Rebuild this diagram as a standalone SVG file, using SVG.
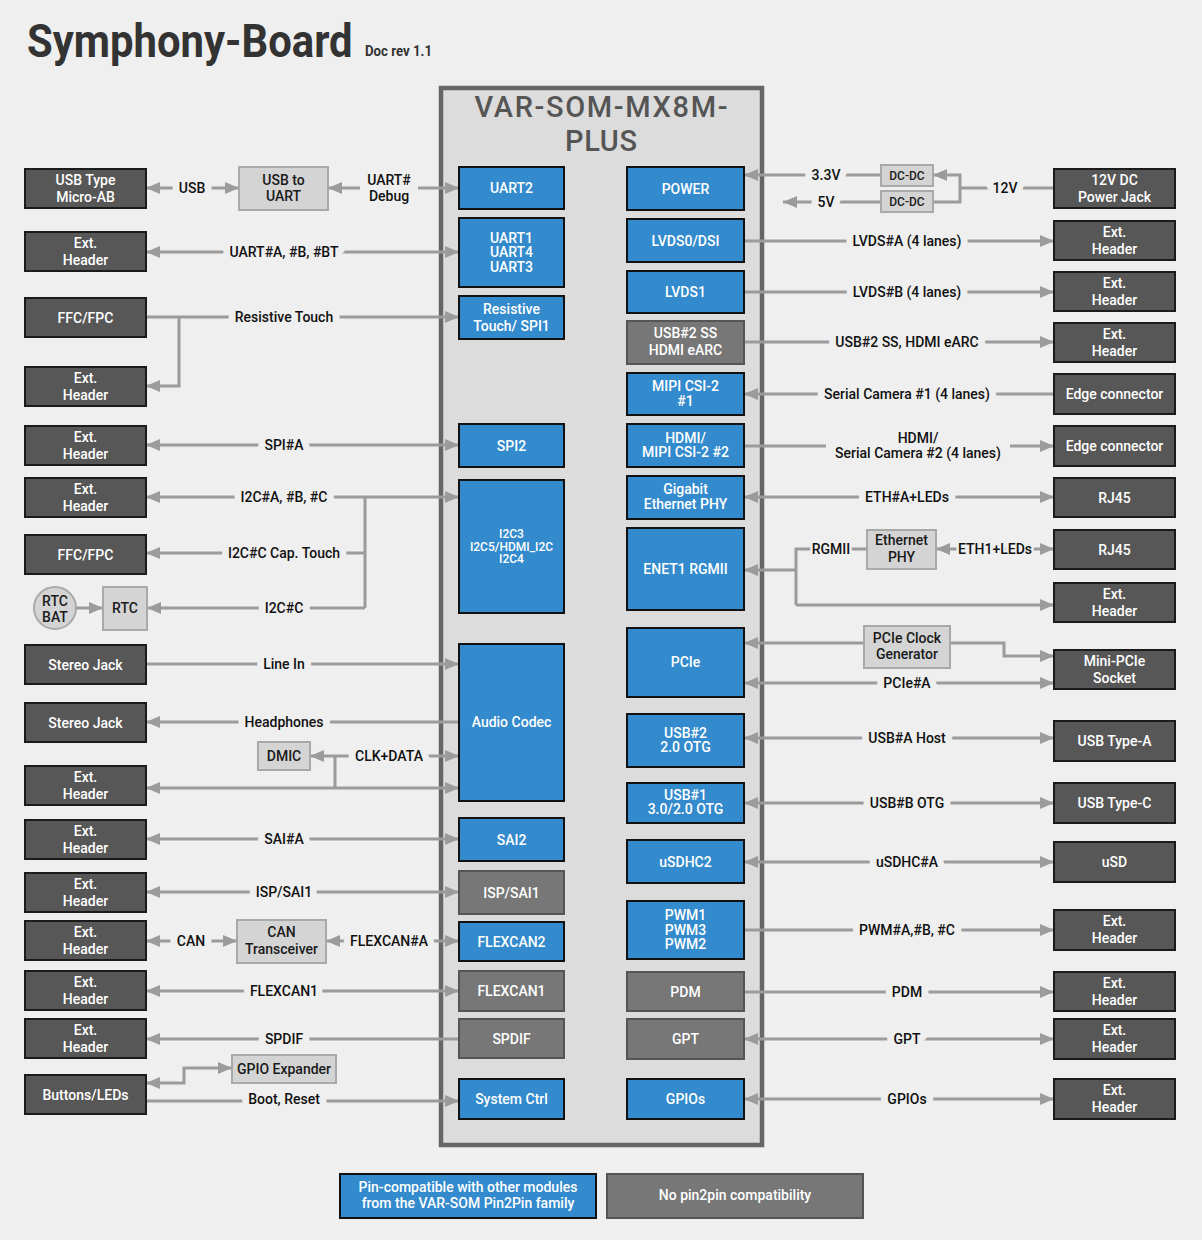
<svg xmlns="http://www.w3.org/2000/svg" width="1202" height="1240" viewBox="0 0 1202 1240">
<defs>
<marker id="ah" viewBox="0 0 14 12" refX="14" refY="6" markerWidth="14" markerHeight="12" markerUnits="userSpaceOnUse" orient="auto-start-reverse"><path d="M0,0 L14,6 L0,12 z" fill="#9b9b9b"/></marker>
<style>
text{font-family:Roboto,"Liberation Sans",sans-serif;font-weight:500;text-anchor:middle}
.dk{fill:#575757;stroke:#1b1b1b;stroke-width:2}
.bl{fill:#338acc;stroke:#111;stroke-width:2}
.gy{fill:#777;stroke:#555;stroke-width:2}
.lt{fill:#d4d4d4;stroke:#a9a9a9;stroke-width:2}
.t{fill:#fff;font-size:14px}
.t12{fill:#fff;font-size:12px}
.k{fill:#1a1a1a;font-size:14px}
.k12{fill:#1a1a1a;font-size:12px}
.c{fill:none;stroke:#9b9b9b;stroke-width:3}
.e{marker-end:url(#ah)}
.s{marker-start:url(#ah)}
.b{marker-start:url(#ah);marker-end:url(#ah)}
.lb{fill:#111;font-size:14px;stroke:#efefef;stroke-width:14px;stroke-linejoin:round;paint-order:stroke}
.ls{stroke-width:5px}
.lb2{fill:#111;font-size:14px}
.gap{fill:#efefef}
</style>
</defs>
<rect x="0" y="0" width="1202" height="1240" fill="#efefef"/>
<g id="title">
<text transform="translate(27,57) scale(0.88,1)" x="0" y="0" style="text-anchor:start;font-weight:700;font-size:46px;fill:#333" textLength="370" lengthAdjust="spacingAndGlyphs">Symphony-Board</text>
<text x="365" y="56" style="text-anchor:start;font-weight:700;font-size:15px;fill:#333" textLength="67" lengthAdjust="spacingAndGlyphs">Doc rev 1.1</text>
</g>
<g id="som">
<rect x="441" y="88" width="321" height="1057" fill="#dcdcdc" stroke="#666" stroke-width="4.5"/>
<text x="601" y="117" style="font-size:29px;fill:#555" textLength="253" lengthAdjust="spacing">VAR-SOM-MX8M-</text>
<text x="601" y="151" style="font-size:29px;fill:#555" textLength="72" lengthAdjust="spacing">PLUS</text>
</g>
<g id="connectors">
<path class="c b" d="M146,188 H239"/>
<path class="c b" d="M328,188 H459"/>
<path class="c b" d="M146,252 H459"/>
<path class="c e" d="M146,317 H459"/>
<path class="c e" d="M179,317 V386 H146"/>
<path class="c b" d="M146,445 H459"/>
<path class="c b" d="M146,497 H459"/>
<path class="c" d="M365,497 V608"/>
<path class="c e" d="M365,553 H146"/>
<path class="c e" d="M365,608 H147"/>
<path class="c e" d="M76,608 H103"/>
<path class="c e" d="M146,664 H459"/>
<path class="c e" d="M459,722 H146"/>
<path class="c b" d="M310,756 H459"/>
<path class="c" d="M335,756 V788"/>
<path class="c b" d="M146,788 H459"/>
<path class="c b" d="M146,839 H459"/>
<path class="c b" d="M146,892 H459"/>
<path class="c b" d="M146,941 H237"/>
<path class="c b" d="M326,941 H459"/>
<path class="c b" d="M146,991 H459"/>
<path class="c e" d="M459,1039 H146"/>
<path class="c b" d="M146,1083 H184 V1068 H232"/>
<path class="c e" d="M146,1101 H459"/>
<path class="c e" d="M881,175 H744"/>
<path class="c e" d="M881,202 H783"/>
<path class="c" d="M1054,188 H960"/>
<path class="c e" d="M933,202 H960 V175 H933"/>
<path class="c e" d="M744,241 H1054"/>
<path class="c e" d="M744,292 H1054"/>
<path class="c e" d="M744,342 H1054"/>
<path class="c e" d="M1054,394 H744"/>
<path class="c e" d="M744,446 H1054"/>
<path class="c b" d="M744,497 H1054"/>
<path class="c e" d="M796,570 H744"/>
<path class="c" d="M867,549 H796 V605"/>
<path class="c e" d="M796,605 H1054"/>
<path class="c b" d="M936,549 H1054"/>
<path class="c e" d="M864,643 H744"/>
<path class="c e" d="M950,643 H1004 V656 H1054"/>
<path class="c b" d="M744,683 H1054"/>
<path class="c b" d="M744,738 H1054"/>
<path class="c b" d="M744,803 H1054"/>
<path class="c b" d="M744,862 H1054"/>
<path class="c e" d="M744,930 H1054"/>
<path class="c e" d="M744,992 H1054"/>
<path class="c b" d="M744,1039 H1054"/>
<path class="c b" d="M744,1099 H1054"/>
<rect class="gap" x="360" y="180" width="58" height="16"/>
<rect class="gap" x="826" y="438" width="184" height="16"/>
<text class="lb" x="192" y="193">USB</text>
<text class="lb2" x="389" y="185">UART#</text>
<text class="lb2" x="389" y="201">Debug</text>
<text class="lb" x="284" y="257">UART#A, #B, #BT</text>
<text class="lb" x="284" y="322">Resistive Touch</text>
<text class="lb" x="284" y="450">SPI#A</text>
<text class="lb" x="284" y="502">I2C#A, #B, #C</text>
<text class="lb" x="284" y="558">I2C#C Cap. Touch</text>
<text class="lb" x="284" y="613">I2C#C</text>
<text class="lb" x="284" y="669">Line In</text>
<text class="lb" x="284" y="727">Headphones</text>
<text class="lb" x="389" y="761">CLK+DATA</text>
<text class="lb" x="284" y="844">SAI#A</text>
<text class="lb" x="284" y="897">ISP/SAI1</text>
<text class="lb" x="191" y="946">CAN</text>
<text class="lb" x="389" y="946">FLEXCAN#A</text>
<text class="lb" x="284" y="996">FLEXCAN1</text>
<text class="lb" x="284" y="1044">SPDIF</text>
<text class="lb" x="284" y="1104">Boot, Reset</text>
<text class="lb" x="826" y="180">3.3V</text>
<text class="lb" x="826" y="207">5V</text>
<text class="lb" x="1005" y="193">12V</text>
<text class="lb" x="907" y="246">LVDS#A (4 lanes)</text>
<text class="lb" x="907" y="297">LVDS#B (4 lanes)</text>
<text class="lb" x="907" y="347">USB#2 SS, HDMI eARC</text>
<text class="lb" x="907" y="399">Serial Camera #1 (4 lanes)</text>
<text class="lb2" x="918" y="443">HDMI/</text>
<text class="lb2" x="918" y="458">Serial Camera #2 (4 lanes)</text>
<text class="lb" x="907" y="502">ETH#A+LEDs</text>
<text class="lb ls" x="831" y="554">RGMII</text>
<text class="lb ls" x="995" y="554">ETH1+LEDs</text>
<text class="lb" x="907" y="688">PCIe#A</text>
<text class="lb" x="907" y="743">USB#A Host</text>
<text class="lb" x="907" y="808">USB#B OTG</text>
<text class="lb" x="907" y="867">uSDHC#A</text>
<text class="lb" x="907" y="935">PWM#A,#B, #C</text>
<text class="lb" x="907" y="997">PDM</text>
<text class="lb" x="907" y="1044">GPT</text>
<text class="lb" x="907" y="1104">GPIOs</text>
</g>
<g id="n-usb-microab"><rect class="dk" x="25" y="169" width="121" height="39"/><text class="t" x="85.5" y="185">USB Type</text><text class="t" x="85.5" y="202">Micro-AB</text></g>
<g id="n-ext-uart"><rect class="dk" x="25" y="232" width="121" height="39"/><text class="t" x="85.5" y="248">Ext.</text><text class="t" x="85.5" y="265">Header</text></g>
<g id="n-ffc-res"><rect class="dk" x="25" y="298" width="121" height="39"/><text class="t" x="85.5" y="322.5">FFC/FPC</text></g>
<g id="n-ext-res"><rect class="dk" x="25" y="367" width="121" height="39"/><text class="t" x="85.5" y="383">Ext.</text><text class="t" x="85.5" y="400">Header</text></g>
<g id="n-ext-spi"><rect class="dk" x="25" y="426" width="121" height="39"/><text class="t" x="85.5" y="442">Ext.</text><text class="t" x="85.5" y="459">Header</text></g>
<g id="n-ext-i2c"><rect class="dk" x="25" y="478" width="121" height="39"/><text class="t" x="85.5" y="494">Ext.</text><text class="t" x="85.5" y="511">Header</text></g>
<g id="n-ffc-cap"><rect class="dk" x="25" y="535" width="121" height="39"/><text class="t" x="85.5" y="559.5">FFC/FPC</text></g>
<g id="n-rtcbat"><circle cx="55" cy="608" r="21" class="lt"/><text class="k" x="55" y="606">RTC</text><text class="k" x="55" y="622">BAT</text></g>
<g id="n-rtc"><rect class="lt" x="103" y="587" width="44" height="43"/><text class="k" x="125" y="613">RTC</text></g>
<g id="n-stereo-in"><rect class="dk" x="25" y="645" width="121" height="39"/><text class="t" x="85.5" y="669.5">Stereo Jack</text></g>
<g id="n-stereo-out"><rect class="dk" x="25" y="703" width="121" height="39"/><text class="t" x="85.5" y="727.5">Stereo Jack</text></g>
<g id="n-dmic"><rect class="lt" x="258" y="742" width="52" height="28"/><text class="k" x="284" y="761">DMIC</text></g>
<g id="n-ext-clk"><rect class="dk" x="25" y="766" width="121" height="39"/><text class="t" x="85.5" y="782">Ext.</text><text class="t" x="85.5" y="799">Header</text></g>
<g id="n-ext-sai"><rect class="dk" x="25" y="820" width="121" height="39"/><text class="t" x="85.5" y="836">Ext.</text><text class="t" x="85.5" y="853">Header</text></g>
<g id="n-ext-isp"><rect class="dk" x="25" y="873" width="121" height="39"/><text class="t" x="85.5" y="889">Ext.</text><text class="t" x="85.5" y="906">Header</text></g>
<g id="n-ext-can"><rect class="dk" x="25" y="921" width="121" height="39"/><text class="t" x="85.5" y="937">Ext.</text><text class="t" x="85.5" y="954">Header</text></g>
<g id="n-can-trx"><rect class="lt" x="237" y="920" width="89" height="43"/><text class="k" x="281.5" y="937">CAN</text><text class="k" x="281.5" y="954">Transceiver</text></g>
<g id="n-ext-flexcan1"><rect class="dk" x="25" y="971" width="121" height="39"/><text class="t" x="85.5" y="987">Ext.</text><text class="t" x="85.5" y="1004">Header</text></g>
<g id="n-ext-spdif"><rect class="dk" x="25" y="1019" width="121" height="39"/><text class="t" x="85.5" y="1035">Ext.</text><text class="t" x="85.5" y="1052">Header</text></g>
<g id="n-gpio-exp"><rect class="lt" x="232" y="1055" width="104" height="28"/><text class="k" x="284" y="1074">GPIO Expander</text></g>
<g id="n-buttons"><rect class="dk" x="25" y="1075" width="121" height="39"/><text class="t" x="85.5" y="1099.5">Buttons/LEDs</text></g>
<g id="n-usb-uart"><rect class="lt" x="239" y="167" width="89" height="43"/><text class="k" x="283.5" y="185">USB to</text><text class="k" x="283.5" y="201">UART</text></g>
<g id="n-uart2"><rect class="bl" x="459" y="167" width="105" height="42"/><text class="t" x="511.5" y="193">UART2</text></g>
<g id="n-uart143"><rect class="bl" x="459" y="218" width="105" height="69"/><text class="t" x="511.5" y="242.5">UART1</text><text class="t" x="511.5" y="257">UART4</text><text class="t" x="511.5" y="271.5">UART3</text></g>
<g id="n-spi1"><rect class="bl" x="459" y="296" width="105" height="43"/><text class="t" x="511.5" y="314">Resistive</text><text class="t" x="511.5" y="331">Touch/ SPI1</text></g>
<g id="n-spi2"><rect class="bl" x="459" y="424" width="105" height="43"/><text class="t" x="511.5" y="450.5">SPI2</text></g>
<g id="n-i2c"><rect class="bl" x="459" y="480" width="105" height="133"/><text class="t12" x="511.5" y="538">I2C3</text><text class="t12" x="511.5" y="550.5">I2C5/HDMI_I2C</text><text class="t12" x="511.5" y="563">I2C4</text></g>
<g id="n-audio"><rect class="bl" x="459" y="644" width="105" height="157"/><text class="t" x="511.5" y="727">Audio Codec</text></g>
<g id="n-sai2"><rect class="bl" x="459" y="818" width="105" height="43"/><text class="t" x="511.5" y="844.5">SAI2</text></g>
<g id="n-isp"><rect class="gy" x="459" y="871" width="105" height="43"/><text class="t" x="511.5" y="897.5">ISP/SAI1</text></g>
<g id="n-flexcan2"><rect class="bl" x="459" y="922" width="105" height="39"/><text class="t" x="511.5" y="946.5">FLEXCAN2</text></g>
<g id="n-flexcan1"><rect class="gy" x="459" y="971" width="105" height="40"/><text class="t" x="511.5" y="996">FLEXCAN1</text></g>
<g id="n-spdif"><rect class="gy" x="459" y="1019" width="105" height="39"/><text class="t" x="511.5" y="1043.5">SPDIF</text></g>
<g id="n-sysctrl"><rect class="bl" x="459" y="1079" width="105" height="40"/><text class="t" x="511.5" y="1104">System Ctrl</text></g>
<g id="n-power"><rect class="bl" x="627" y="167" width="117" height="43"/><text class="t" x="685.5" y="193.5">POWER</text></g>
<g id="n-lvds0"><rect class="bl" x="627" y="219" width="117" height="43"/><text class="t" x="685.5" y="245.5">LVDS0/DSI</text></g>
<g id="n-lvds1"><rect class="bl" x="627" y="271" width="117" height="42"/><text class="t" x="685.5" y="297">LVDS1</text></g>
<g id="n-usb2ss"><rect class="gy" x="627" y="321" width="117" height="43"/><text class="t" x="685.5" y="338">USB#2 SS</text><text class="t" x="685.5" y="355">HDMI eARC</text></g>
<g id="n-mipi1"><rect class="bl" x="627" y="373" width="117" height="42"/><text class="t" x="685.5" y="391">MIPI CSI-2</text><text class="t" x="685.5" y="406">#1</text></g>
<g id="n-hdmi"><rect class="bl" x="627" y="424" width="117" height="43"/><text class="t" x="685.5" y="443">HDMI/</text><text class="t" x="685.5" y="457">MIPI CSI-2 #2</text></g>
<g id="n-gbe"><rect class="bl" x="627" y="476" width="117" height="43"/><text class="t" x="685.5" y="494">Gigabit</text><text class="t" x="685.5" y="509">Ethernet PHY</text></g>
<g id="n-enet1"><rect class="bl" x="627" y="528" width="117" height="82"/><text class="t" x="685.5" y="574">ENET1 RGMII</text></g>
<g id="n-pcie"><rect class="bl" x="627" y="628" width="117" height="69"/><text class="t" x="685.5" y="667">PCIe</text></g>
<g id="n-usb2otg"><rect class="bl" x="627" y="714" width="117" height="53"/><text class="t" x="685.5" y="738">USB#2</text><text class="t" x="685.5" y="752">2.0 OTG</text></g>
<g id="n-usb1otg"><rect class="bl" x="627" y="783" width="117" height="40"/><text class="t" x="685.5" y="800">USB#1</text><text class="t" x="685.5" y="814">3.0/2.0 OTG</text></g>
<g id="n-usdhc2"><rect class="bl" x="627" y="840" width="117" height="43"/><text class="t" x="685.5" y="866.5">uSDHC2</text></g>
<g id="n-pwm"><rect class="bl" x="627" y="901" width="117" height="58"/><text class="t" x="685.5" y="920">PWM1</text><text class="t" x="685.5" y="935">PWM3</text><text class="t" x="685.5" y="949">PWM2</text></g>
<g id="n-pdm"><rect class="gy" x="627" y="972" width="117" height="39"/><text class="t" x="685.5" y="996.5">PDM</text></g>
<g id="n-gpt"><rect class="gy" x="627" y="1019" width="117" height="40"/><text class="t" x="685.5" y="1044">GPT</text></g>
<g id="n-gpios"><rect class="bl" x="627" y="1079" width="117" height="40"/><text class="t" x="685.5" y="1104">GPIOs</text></g>
<g id="n-dcdc33"><rect class="lt" x="881" y="165" width="52" height="21"/><text class="k12" x="907" y="179.5">DC-DC</text></g>
<g id="n-dcdc5"><rect class="lt" x="881" y="191" width="52" height="21"/><text class="k12" x="907" y="205.5">DC-DC</text></g>
<g id="n-ethphy"><rect class="lt" x="867" y="530" width="69" height="39"/><text class="k" x="901.5" y="545">Ethernet</text><text class="k" x="901.5" y="562">PHY</text></g>
<g id="n-pcieclk"><rect class="lt" x="864" y="626" width="86" height="42"/><text class="k" x="907" y="643">PCIe Clock</text><text class="k" x="907" y="659">Generator</text></g>
<g id="n-12v"><rect class="dk" x="1054" y="169" width="121" height="39"/><text class="t" x="1114.5" y="185">12V DC</text><text class="t" x="1114.5" y="202">Power Jack</text></g>
<g id="n-ext-lvdsa"><rect class="dk" x="1054" y="221" width="121" height="39"/><text class="t" x="1114.5" y="237">Ext.</text><text class="t" x="1114.5" y="254">Header</text></g>
<g id="n-ext-lvdsb"><rect class="dk" x="1054" y="272" width="121" height="39"/><text class="t" x="1114.5" y="288">Ext.</text><text class="t" x="1114.5" y="305">Header</text></g>
<g id="n-ext-usbss"><rect class="dk" x="1054" y="323" width="121" height="39"/><text class="t" x="1114.5" y="339">Ext.</text><text class="t" x="1114.5" y="356">Header</text></g>
<g id="n-edge1"><rect class="dk" x="1054" y="374" width="121" height="40"/><text class="t" x="1114.5" y="399">Edge connector</text></g>
<g id="n-edge2"><rect class="dk" x="1054" y="426" width="121" height="40"/><text class="t" x="1114.5" y="451">Edge connector</text></g>
<g id="n-rj45a"><rect class="dk" x="1054" y="478" width="121" height="39"/><text class="t" x="1114.5" y="502.5">RJ45</text></g>
<g id="n-rj45b"><rect class="dk" x="1054" y="530" width="121" height="39"/><text class="t" x="1114.5" y="554.5">RJ45</text></g>
<g id="n-ext-rgmii"><rect class="dk" x="1054" y="583" width="121" height="39"/><text class="t" x="1114.5" y="599">Ext.</text><text class="t" x="1114.5" y="616">Header</text></g>
<g id="n-minipcie"><rect class="dk" x="1054" y="650" width="121" height="39"/><text class="t" x="1114.5" y="666">Mini-PCIe</text><text class="t" x="1114.5" y="683">Socket</text></g>
<g id="n-usba"><rect class="dk" x="1054" y="721" width="121" height="40"/><text class="t" x="1114.5" y="746">USB Type-A</text></g>
<g id="n-usbc"><rect class="dk" x="1054" y="783" width="121" height="40"/><text class="t" x="1114.5" y="808">USB Type-C</text></g>
<g id="n-usd"><rect class="dk" x="1054" y="842" width="121" height="40"/><text class="t" x="1114.5" y="867">uSD</text></g>
<g id="n-ext-pwm"><rect class="dk" x="1054" y="910" width="121" height="40"/><text class="t" x="1114.5" y="926">Ext.</text><text class="t" x="1114.5" y="943">Header</text></g>
<g id="n-ext-pdm"><rect class="dk" x="1054" y="972" width="121" height="39"/><text class="t" x="1114.5" y="988">Ext.</text><text class="t" x="1114.5" y="1005">Header</text></g>
<g id="n-ext-gpt"><rect class="dk" x="1054" y="1019" width="121" height="40"/><text class="t" x="1114.5" y="1035">Ext.</text><text class="t" x="1114.5" y="1052">Header</text></g>
<g id="n-ext-gpios"><rect class="dk" x="1054" y="1079" width="121" height="40"/><text class="t" x="1114.5" y="1095">Ext.</text><text class="t" x="1114.5" y="1112">Header</text></g>
<g id="legend-p2p"><rect class="bl" x="340" y="1174" width="256" height="44"/><text class="t" x="468" y="1192">Pin-compatible with other modules</text><text class="t" x="468" y="1208">from the VAR-SOM Pin2Pin family</text></g>
<g id="legend-nop2p"><rect class="gy" x="607" y="1174" width="256" height="44"/><text class="t" x="735" y="1200">No pin2pin compatibility</text></g>
</svg>
